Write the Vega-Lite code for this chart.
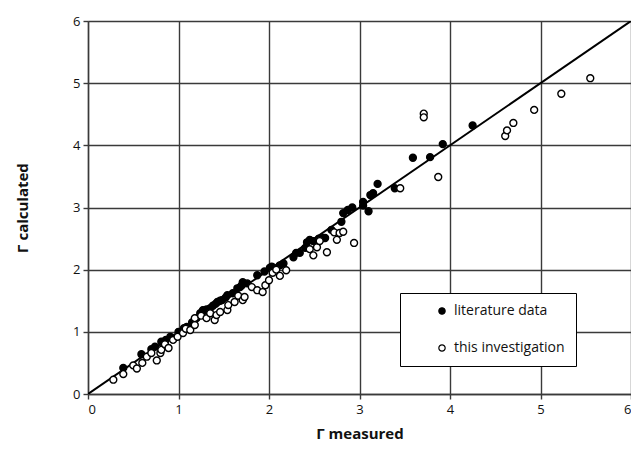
{
  "$schema": "https://vega.github.io/schema/vega-lite/v6.json",
  "width": 543,
  "height": 373,
  "autosize": {"type": "none"},
  "padding": {"left": 88, "top": 21, "right": 0, "bottom": 58},
  "background": "white",
  "config": {
    "view": {"stroke": null},
    "font": "Open Sans",
    "axis": {
      "gridColor": "#3a3a3a",
      "gridWidth": 1.4,
      "gridOpacity": 1,
      "domainColor": "#3a3a3a",
      "domainWidth": 1.4,
      "tickColor": "#3a3a3a",
      "tickSize": 5,
      "tickWidth": 1.4,
      "labelFont": "Open Sans",
      "labelFontSize": 13,
      "labelColor": "#111",
      "format": "d",
      "titleFont": "Open Sans",
      "titleFontSize": 15,
      "titleFontWeight": "bold",
      "titleColor": "#111"
    }
  },
  "datasets": {
    "pts": [
      {"measured": 0.39, "calculated": 0.42, "series": "literature data"},
      {"measured": 0.59, "calculated": 0.64, "series": "literature data"},
      {"measured": 0.70, "calculated": 0.72, "series": "literature data"},
      {"measured": 0.74, "calculated": 0.76, "series": "literature data"},
      {"measured": 0.81, "calculated": 0.84, "series": "literature data"},
      {"measured": 0.86, "calculated": 0.87, "series": "literature data"},
      {"measured": 0.91, "calculated": 0.92, "series": "literature data"},
      {"measured": 1.00, "calculated": 1.00, "series": "literature data"},
      {"measured": 1.06, "calculated": 1.06, "series": "literature data"},
      {"measured": 1.09, "calculated": 1.08, "series": "literature data"},
      {"measured": 1.15, "calculated": 1.15, "series": "literature data"},
      {"measured": 1.20, "calculated": 1.22, "series": "literature data"},
      {"measured": 1.24, "calculated": 1.30, "series": "literature data"},
      {"measured": 1.27, "calculated": 1.35, "series": "literature data"},
      {"measured": 1.31, "calculated": 1.36, "series": "literature data"},
      {"measured": 1.35, "calculated": 1.38, "series": "literature data"},
      {"measured": 1.38, "calculated": 1.42, "series": "literature data"},
      {"measured": 1.41, "calculated": 1.45, "series": "literature data"},
      {"measured": 1.43, "calculated": 1.48, "series": "literature data"},
      {"measured": 1.46, "calculated": 1.50, "series": "literature data"},
      {"measured": 1.48, "calculated": 1.51, "series": "literature data"},
      {"measured": 1.52, "calculated": 1.55, "series": "literature data"},
      {"measured": 1.54, "calculated": 1.59, "series": "literature data"},
      {"measured": 1.60, "calculated": 1.62, "series": "literature data"},
      {"measured": 1.65, "calculated": 1.70, "series": "literature data"},
      {"measured": 1.68, "calculated": 1.72, "series": "literature data"},
      {"measured": 1.70, "calculated": 1.75, "series": "literature data"},
      {"measured": 1.71, "calculated": 1.80, "series": "literature data"},
      {"measured": 1.76, "calculated": 1.78, "series": "literature data"},
      {"measured": 1.87, "calculated": 1.91, "series": "literature data"},
      {"measured": 1.95, "calculated": 1.97, "series": "literature data"},
      {"measured": 2.01, "calculated": 2.03, "series": "literature data"},
      {"measured": 2.03, "calculated": 2.05, "series": "literature data"},
      {"measured": 2.12, "calculated": 2.07, "series": "literature data"},
      {"measured": 2.16, "calculated": 2.10, "series": "literature data"},
      {"measured": 2.27, "calculated": 2.20, "series": "literature data"},
      {"measured": 2.30, "calculated": 2.27, "series": "literature data"},
      {"measured": 2.34, "calculated": 2.27, "series": "literature data"},
      {"measured": 2.40, "calculated": 2.35, "series": "literature data"},
      {"measured": 2.42, "calculated": 2.44, "series": "literature data"},
      {"measured": 2.45, "calculated": 2.48, "series": "literature data"},
      {"measured": 2.49, "calculated": 2.46, "series": "literature data"},
      {"measured": 2.55, "calculated": 2.50, "series": "literature data"},
      {"measured": 2.60, "calculated": 2.51, "series": "literature data"},
      {"measured": 2.62, "calculated": 2.51, "series": "literature data"},
      {"measured": 2.69, "calculated": 2.64, "series": "literature data"},
      {"measured": 2.80, "calculated": 2.77, "series": "literature data"},
      {"measured": 2.82, "calculated": 2.91, "series": "literature data"},
      {"measured": 2.87, "calculated": 2.96, "series": "literature data"},
      {"measured": 2.92, "calculated": 3.00, "series": "literature data"},
      {"measured": 3.04, "calculated": 3.03, "series": "literature data"},
      {"measured": 3.04, "calculated": 3.09, "series": "literature data"},
      {"measured": 3.10, "calculated": 2.94, "series": "literature data"},
      {"measured": 3.12, "calculated": 3.20, "series": "literature data"},
      {"measured": 3.15, "calculated": 3.23, "series": "literature data"},
      {"measured": 3.20, "calculated": 3.38, "series": "literature data"},
      {"measured": 3.39, "calculated": 3.31, "series": "literature data"},
      {"measured": 3.59, "calculated": 3.80, "series": "literature data"},
      {"measured": 3.78, "calculated": 3.81, "series": "literature data"},
      {"measured": 3.92, "calculated": 4.02, "series": "literature data"},
      {"measured": 4.25, "calculated": 4.32, "series": "literature data"},
      {"measured": 0.28, "calculated": 0.23, "series": "this investigation"},
      {"measured": 0.39, "calculated": 0.32, "series": "this investigation"},
      {"measured": 0.50, "calculated": 0.46, "series": "this investigation"},
      {"measured": 0.54, "calculated": 0.41, "series": "this investigation"},
      {"measured": 0.60, "calculated": 0.50, "series": "this investigation"},
      {"measured": 0.65, "calculated": 0.60, "series": "this investigation"},
      {"measured": 0.70, "calculated": 0.66, "series": "this investigation"},
      {"measured": 0.76, "calculated": 0.54, "series": "this investigation"},
      {"measured": 0.80, "calculated": 0.66, "series": "this investigation"},
      {"measured": 0.81, "calculated": 0.71, "series": "this investigation"},
      {"measured": 0.85, "calculated": 0.80, "series": "this investigation"},
      {"measured": 0.89, "calculated": 0.74, "series": "this investigation"},
      {"measured": 0.94, "calculated": 0.87, "series": "this investigation"},
      {"measured": 0.99, "calculated": 0.92, "series": "this investigation"},
      {"measured": 1.05, "calculated": 0.98, "series": "this investigation"},
      {"measured": 1.08, "calculated": 1.05, "series": "this investigation"},
      {"measured": 1.13, "calculated": 1.03, "series": "this investigation"},
      {"measured": 1.18, "calculated": 1.11, "series": "this investigation"},
      {"measured": 1.18, "calculated": 1.22, "series": "this investigation"},
      {"measured": 1.25, "calculated": 1.26, "series": "this investigation"},
      {"measured": 1.31, "calculated": 1.22, "series": "this investigation"},
      {"measured": 1.35, "calculated": 1.30, "series": "this investigation"},
      {"measured": 1.40, "calculated": 1.19, "series": "this investigation"},
      {"measured": 1.42, "calculated": 1.27, "series": "this investigation"},
      {"measured": 1.46, "calculated": 1.32, "series": "this investigation"},
      {"measured": 1.54, "calculated": 1.35, "series": "this investigation"},
      {"measured": 1.55, "calculated": 1.43, "series": "this investigation"},
      {"measured": 1.62, "calculated": 1.48, "series": "this investigation"},
      {"measured": 1.66, "calculated": 1.58, "series": "this investigation"},
      {"measured": 1.71, "calculated": 1.51, "series": "this investigation"},
      {"measured": 1.73, "calculated": 1.56, "series": "this investigation"},
      {"measured": 1.81, "calculated": 1.72, "series": "this investigation"},
      {"measured": 1.87, "calculated": 1.67, "series": "this investigation"},
      {"measured": 1.93, "calculated": 1.64, "series": "this investigation"},
      {"measured": 1.96, "calculated": 1.75, "series": "this investigation"},
      {"measured": 2.00, "calculated": 1.83, "series": "this investigation"},
      {"measured": 2.04, "calculated": 1.95, "series": "this investigation"},
      {"measured": 2.08, "calculated": 2.00, "series": "this investigation"},
      {"measured": 2.12, "calculated": 1.90, "series": "this investigation"},
      {"measured": 2.19, "calculated": 1.99, "series": "this investigation"},
      {"measured": 2.45, "calculated": 2.33, "series": "this investigation"},
      {"measured": 2.49, "calculated": 2.23, "series": "this investigation"},
      {"measured": 2.53, "calculated": 2.36, "series": "this investigation"},
      {"measured": 2.56, "calculated": 2.46, "series": "this investigation"},
      {"measured": 2.64, "calculated": 2.28, "series": "this investigation"},
      {"measured": 2.72, "calculated": 2.60, "series": "this investigation"},
      {"measured": 2.75, "calculated": 2.48, "series": "this investigation"},
      {"measured": 2.78, "calculated": 2.59, "series": "this investigation"},
      {"measured": 2.82, "calculated": 2.61, "series": "this investigation"},
      {"measured": 2.94, "calculated": 2.43, "series": "this investigation"},
      {"measured": 3.45, "calculated": 3.31, "series": "this investigation"},
      {"measured": 3.71, "calculated": 4.51, "series": "this investigation"},
      {"measured": 3.71, "calculated": 4.45, "series": "this investigation"},
      {"measured": 3.87, "calculated": 3.49, "series": "this investigation"},
      {"measured": 4.61, "calculated": 4.15, "series": "this investigation"},
      {"measured": 4.63, "calculated": 4.24, "series": "this investigation"},
      {"measured": 4.70, "calculated": 4.36, "series": "this investigation"},
      {"measured": 4.93, "calculated": 4.57, "series": "this investigation"},
      {"measured": 5.23, "calculated": 4.83, "series": "this investigation"},
      {"measured": 5.55, "calculated": 5.08, "series": "this investigation"}
    ],
    "diag": [
      {"measured": 0, "calculated": 0},
      {"measured": 6, "calculated": 6}
    ]
  },
  "layer": [
    {
      "data": {"name": "diag"},
      "mark": {"type": "line", "color": "black", "strokeWidth": 2, "clip": true},
      "encoding": {
        "x": {
          "field": "measured", "type": "quantitative",
          "scale": {"domain": [0, 6], "nice": false},
          "axis": {"title": "Γ measured", "values": [0, 1, 2, 3, 4, 5, 6], "labelPadding": 4, "titlePadding": 10, "grid": true}
        },
        "y": {
          "field": "calculated", "type": "quantitative",
          "scale": {"domain": [0, 6], "nice": false},
          "axis": {"title": "Γ calculated", "values": [0, 1, 2, 3, 4, 5, 6], "labelPadding": 3, "titlePadding": 42, "grid": true}
        }
      }
    },
    {
      "data": {"name": "pts"},
      "mark": {"type": "point", "filled": true, "stroke": "black", "strokeWidth": 1.4, "size": 48, "opacity": 1},
      "encoding": {
        "x": {"field": "measured", "type": "quantitative"},
        "y": {"field": "calculated", "type": "quantitative"},
        "fill": {
          "field": "series", "type": "nominal",
          "scale": {"domain": ["literature data", "this investigation"], "range": ["black", "white"]},
          "legend": {
            "title": null,
            "orient": "none",
            "legendX": 312,
            "legendY": 272,
            "padding": 11,
            "strokeColor": "black",
            "fillColor": "white",
            "symbolType": "circle",
            "symbolSize": 40,
            "symbolStrokeColor": "black",
            "symbolStrokeWidth": 1.2,
            "symbolOffset": 24,
            "labelOffset": 5,
            "labelFont": "Open Sans",
            "labelFontSize": 14,
            "labelColor": "#111",
            "rowPadding": 23
          }
        }
      }
    }
  ]
}
